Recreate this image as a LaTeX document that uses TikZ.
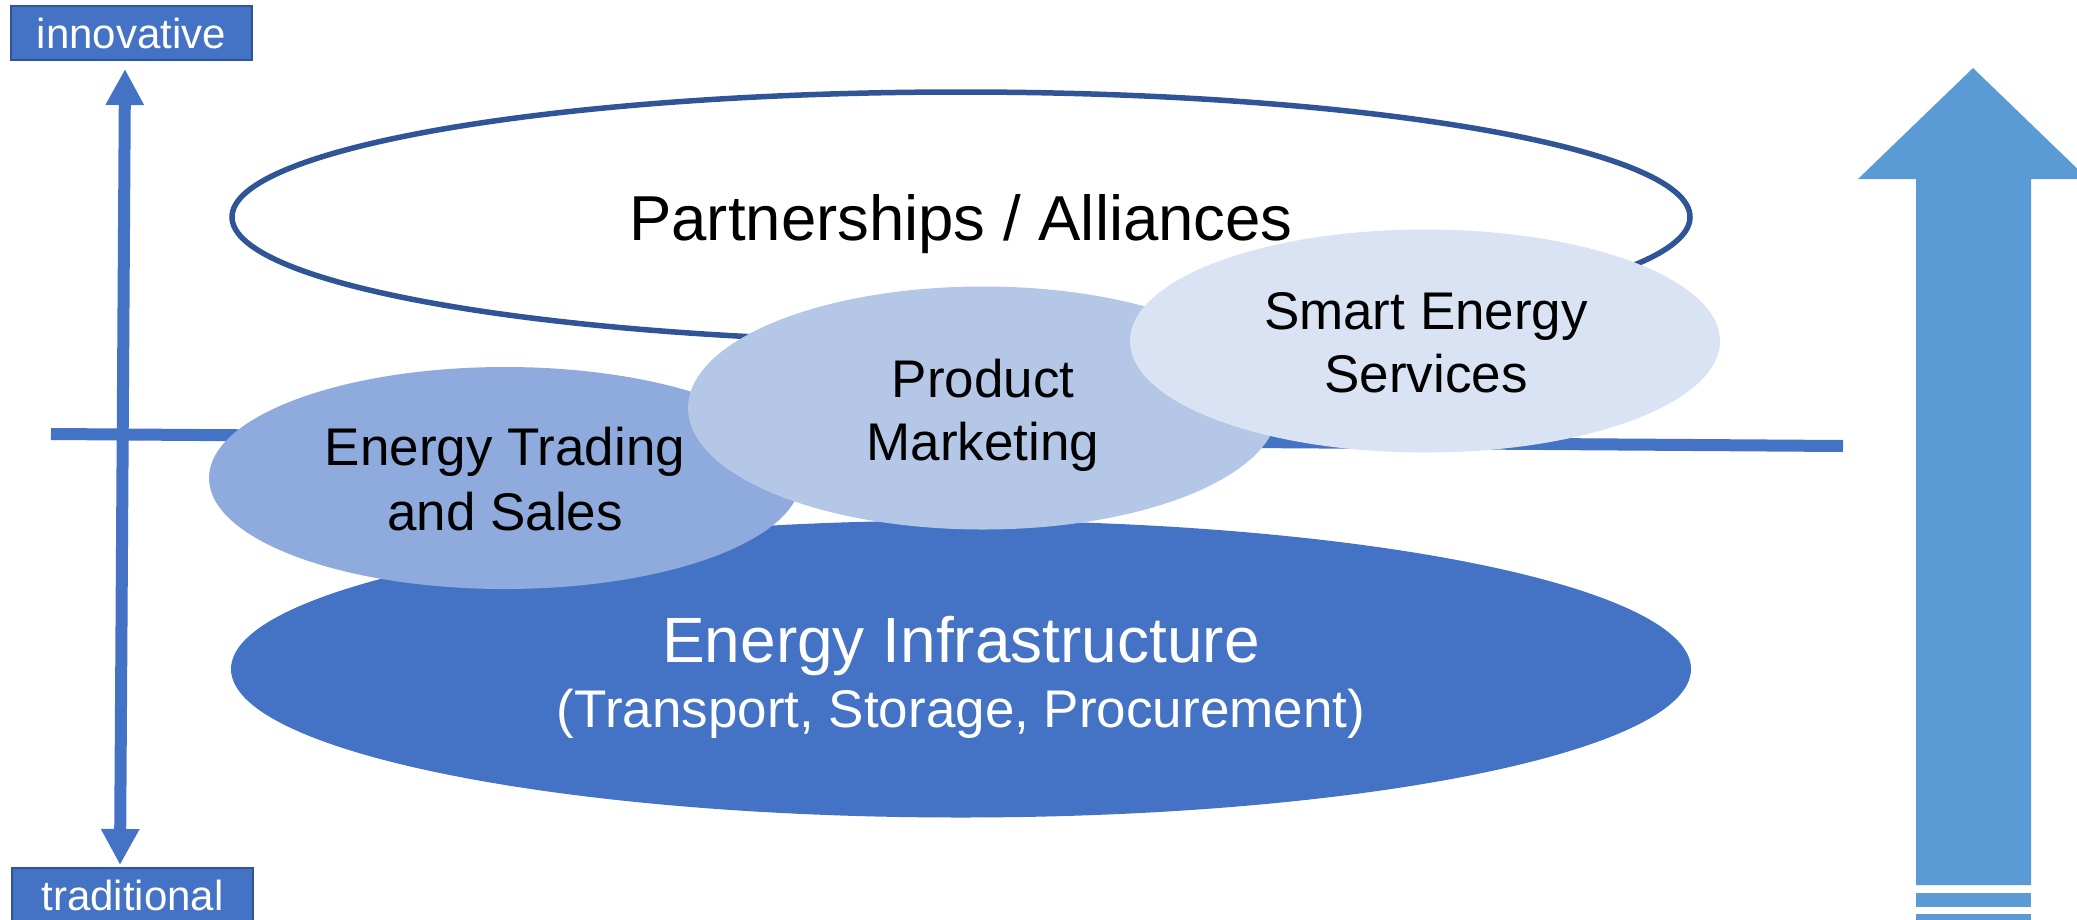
\documentclass[tikz,border=0pt]{standalone}
\usepackage{fontspec}
\setmainfont{Liberation Sans}
\usetikzlibrary{shapes.geometric,arrows.meta}
\definecolor{acc}{HTML}{4472C4}
\definecolor{accdark}{HTML}{2F5597}
\definecolor{lfourty}{HTML}{8FAADC}
\definecolor{lsixty}{HTML}{B4C7E7}
\definecolor{leighty}{HTML}{DAE3F3}
\definecolor{bigarrow}{HTML}{5B9BD5}
\begin{document}
\begin{tikzpicture}[x=1pt,y=-1pt,
  blob/.style={ellipse, inner sep=0pt, draw=none},
  lbl/.style={anchor=base, align=center, text=black},
  axisbox/.style={draw=accdark, fill=acc, line width=2pt, minimum width=241pt, minimum height=54pt,
    inner sep=0pt, text=white, text height=30pt, text depth=0pt, font=\fontsize{42}{50}\selectfont},
  axisline/.style={acc, line width=12pt, {Triangle[width=36pt,length=36pt]}-{Triangle[width=36pt,length=36pt]}}
]
\useasboundingbox (0,0) rectangle (2077,919);

% outline ellipse
\node[ellipse, draw=accdark, line width=5.5pt, fill=white, minimum width=1458pt, minimum height=250pt, inner sep=0pt] (part) at (961,217) {};

% horizontal divider
\coordinate (hL) at (51,434);
\coordinate (hR) at (1843,446);
\draw[acc, line width=12pt] (hL) -- (hR);

% filled ellipses
\node[blob, fill=acc, minimum width=1460pt, minimum height=297pt] (infra) at (961,669) {};
\node[blob, fill=lfourty, minimum width=592pt, minimum height=222pt] (trade) at (505,478) {};
\node[blob, fill=lsixty, minimum width=590pt, minimum height=243pt] (prod) at (983,408) {};
\node[blob, fill=leighty, minimum width=590pt, minimum height=223pt] (smart) at (1425,341) {};

% labels (base anchor = baseline of the last line)
\node[lbl, font=\fontsize{63.5}{76}\selectfont] (tpart) at (961,240) {Partnerships / Alliances};
\node[lbl, font=\fontsize{53}{65}\selectfont] (ttrade) at (505,530) {Energy Trading\\and Sales};
\node[lbl, font=\fontsize{53}{63}\selectfont] (tprod) at (983,460) {Product\\Marketing};
\node[lbl, font=\fontsize{53}{63}\selectfont] (tsmart) at (1426,392) {Smart Energy\\Services};
\node[lbl, text=white, font=\fontsize{64}{76}\selectfont] (tinfra) at (961,662) {Energy Infrastructure};
\node[lbl, text=white, font=\fontsize{53}{64}\selectfont] (tinfrb) at (961,727) {(Transport, Storage, Procurement)};

% axis
\node[axisbox] (innov) at (131.5,33) {innovative};
\node[axisbox] (trad) at (132.5,895) {traditional};
\draw[axisline] ([xshift=-12.5pt,yshift=2pt]trad.north) -- ([xshift=-6.5pt,yshift=-8pt]innov.south);

% big arrow
\fill[bigarrow] (1973,68) -- (2088,179) -- (2031,179) -- (2031,885) -- (1916,885) -- (1916,179) -- (1858,179) -- cycle;
\fill[bigarrow] (1916,893) rectangle (2031,907);
\fill[bigarrow] (1916,914) rectangle (2031,930);
\end{tikzpicture}
\end{document}
